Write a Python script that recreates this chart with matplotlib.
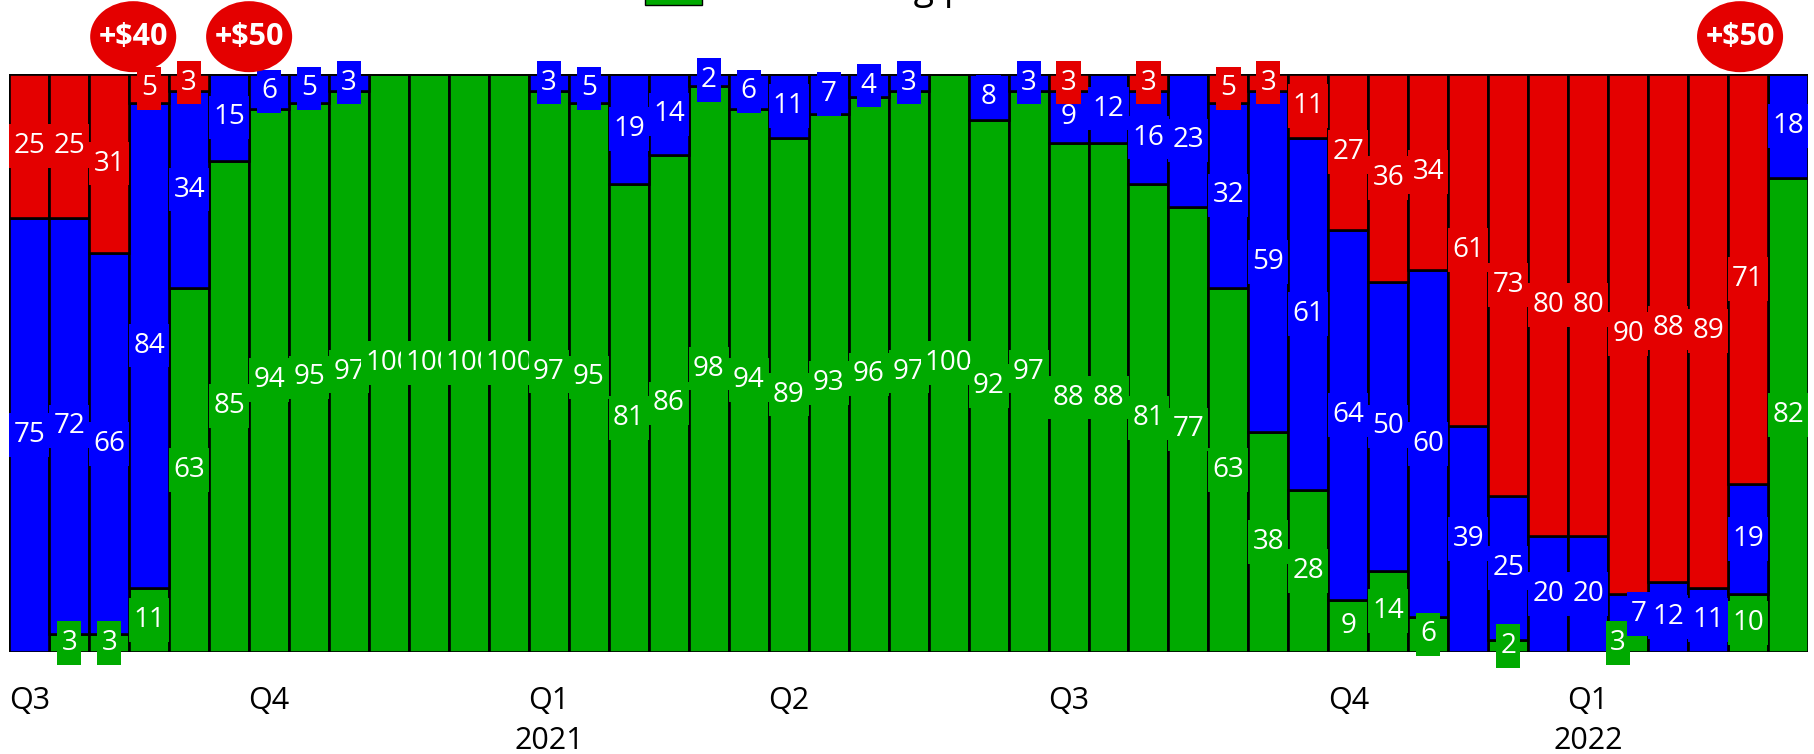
import matplotlib
matplotlib.use("Agg")
import matplotlib.pyplot as plt
from matplotlib.patches import Ellipse, Rectangle
from matplotlib.path import Path

plt.rcParams['font.family'] = ['Open Sans', 'DejaVu Sans']

# ---------------- data ----------------
red_vals = [25, 25, 31, 5, 3, 0, 0, 0, 0, 0, 0, 0, 0, 0, 0, 0, 0, 0, 0, 0, 0, 0, 0,
            0, 0, 0, 3, 0, 3, 0, 5, 3, 11, 27, 36, 34, 61, 73, 80, 80, 90, 88, 89, 71, 0]
blue_vals = [75, 72, 66, 84, 34, 15, 6, 5, 3, 0, 0, 0, 0, 3, 5, 19, 14, 2, 6, 11, 7, 4, 3,
             0, 8, 3, 9, 12, 16, 23, 32, 59, 61, 64, 50, 60, 39, 25, 20, 20, 7, 12, 11, 19, 18]
green_vals = [0, 3, 3, 11, 63, 85, 94, 95, 97, 100, 100, 100, 100, 97, 95, 81, 86, 98, 94, 89, 93, 96, 97,
              100, 92, 97, 88, 88, 81, 77, 63, 38, 28, 9, 14, 6, 0, 2, 0, 0, 3, 0, 0, 10, 82]

tick_positions = [0, 6, 13, 19, 26, 33, 39]
tick_labels = ["Q3", "Q4", "Q1\n2021", "Q2", "Q3", "Q4", "Q1\n2022"]

callout_positions = [2.6, 5.5, 42.8]
callout_labels = ["+$40", "+$50", "+$50"]

legend_label = "At existing price"

RED = "#E40000"
BLUE = "#0000FF"
GREEN = "#00AA00"


def label_box(x0, y0, width, height, mutation_size):
    px = 0.15 * mutation_size
    py = 0.28 * mutation_size
    return Path([(x0 - px, y0 - py), (x0 + width + px, y0 - py),
                 (x0 + width + px, y0 + height + py), (x0 - px, y0 + height + py),
                 (x0 - px, y0 - py)], closed=True)


# ---------------- figure ----------------
W, H = 1815, 754
fig = plt.figure(figsize=(W / 100, H / 100), dpi=100)
left_px, right_px, top_px, bot_px = 9.3, 1808, 74, 651.7
ax = fig.add_axes([left_px / W, 1 - bot_px / H, (right_px - left_px) / W, (bot_px - top_px) / H])

n = len(green_vals)
x = list(range(n))
lw = 1.9
bottoms_blue = green_vals
bottoms_red = [g + b for g, b in zip(green_vals, blue_vals)]
ax.bar(x, green_vals, width=1.0, color=GREEN, edgecolor="black", linewidth=lw, zorder=2)
ax.bar(x, blue_vals, bottom=bottoms_blue, width=1.0, color=BLUE, edgecolor="black", linewidth=lw, zorder=2)
ax.bar(x, red_vals, bottom=bottoms_red, width=1.0, color=RED, edgecolor="black", linewidth=lw, zorder=2)

ax.set_xlim(-0.5, n - 0.5)
ax.set_ylim(0, 100)
for s in ax.spines.values():
    s.set_visible(False)
ax.set_yticks([])
ax.set_xticks(tick_positions)
ax.set_xticklabels(tick_labels, fontsize=22, linespacing=1.4)
ax.tick_params(axis='x', length=0, pad=25)

# value labels
nudge = {(40, 'green'): -0.25, (40, 'blue'): 0.27}
fs = 20
for i in range(n):
    segs = [('green', green_vals[i], 0, GREEN),
            ('blue', blue_vals[i], green_vals[i], BLUE),
            ('red', red_vals[i], green_vals[i] + blue_vals[i], RED)]
    for name, v, b, c in segs:
        if v <= 0:
            continue
        xx = i + nudge.get((i, name), 0)
        ax.text(xx, b + v / 2, str(v), ha='center', va='center', color='white', fontsize=fs,
                zorder=3, clip_on=False,
                bbox=dict(boxstyle=label_box, facecolor=c, edgecolor='none'))

# callout ellipses
for cx, lab in zip(callout_positions, callout_labels):
    e = Ellipse((cx, 1.0646), width=86 / 39.95, height=71 / (bot_px - top_px),
                transform=ax.get_xaxis_transform(), facecolor=RED, edgecolor='none',
                clip_on=False, zorder=4)
    ax.add_patch(e)
    ax.text(cx, 1.0646, lab, transform=ax.get_xaxis_transform(), ha='center', va='center',
            color='white', fontsize=22, fontweight='bold', zorder=5, clip_on=False)

# legend (mostly cut off at the top of the figure)
fig.patches.append(Rectangle((645 / W, 1 - 5 / H), 57 / W, 45 / H, transform=fig.transFigure,
                             facecolor=GREEN, edgecolor='black', linewidth=1.0))
fig.text(753 / W, 1 + 0.5 / H, legend_label, ha='left', va='baseline', fontsize=27, color='black')

fig.savefig("out.png", dpi=100)
